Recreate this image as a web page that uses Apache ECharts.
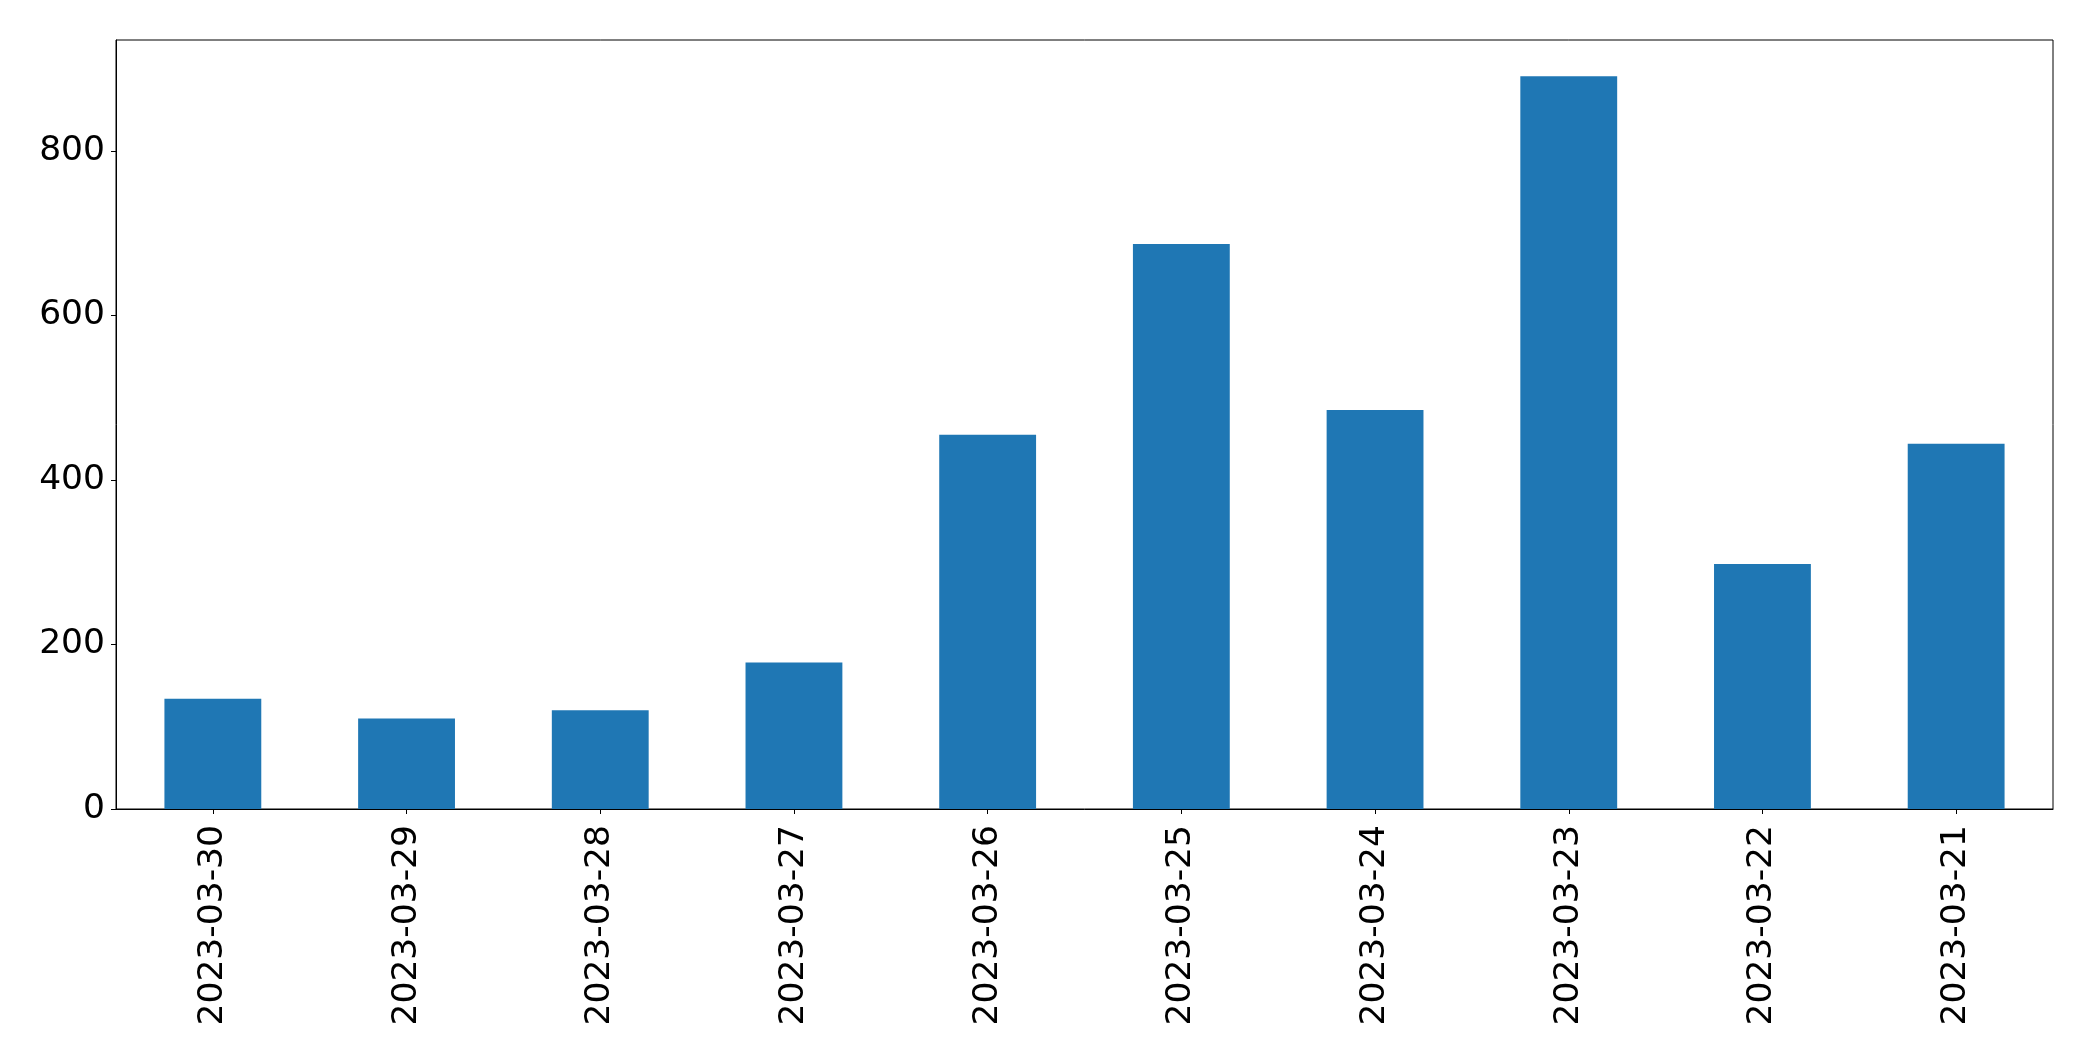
<!DOCTYPE html>
<html>
<head>
<meta charset="utf-8">
<script src="https://cdn.jsdelivr.net/npm/echarts@6/dist/echarts.min.js"></script>
<style>
  html, body { margin: 0; padding: 0; background: #fff; }
  #chart { width: 2093px; height: 1061px; }
</style>
</head>
<body>
<div id="chart"></div>
<script>
var dates = ['2023-03-30', '2023-03-29', '2023-03-28', '2023-03-27', '2023-03-26',
             '2023-03-25', '2023-03-24', '2023-03-23', '2023-03-22', '2023-03-21'];
var counts = [134, 110, 120, 178, 455, 687, 485, 891, 298, 444];
var yTicks = [0, 200, 400, 600, 800];

var chart = echarts.init(document.getElementById('chart'));
var font = 'DejaVu Sans';

var option = {
    backgroundColor: '#fff',
    animation: false,
    grid: {
        left: 116,
        right: 40,
        top: 40,
        bottom: 252,
        show: true,
        borderColor: '#000',
        borderWidth: 1,
        containLabel: false
    },
    xAxis: {
        type: 'category',
        data: dates,
        boundaryGap: true,
        axisLine: { show: true, lineStyle: { color: '#000', width: 1 } },
        axisTick: { show: true, alignWithLabel: true, length: 5, lineStyle: { color: '#000' } },
        axisLabel: {
            rotate: 90,
            margin: 16,
            color: '#000',
            fontSize: 34.5,
            fontFamily: font,
            interval: 0
        },
        splitLine: { show: false }
    },
    yAxis: {
        type: 'value',
        min: 0,
        max: 935,
        interval: 200,
        axisLine: { show: true, lineStyle: { color: '#000', width: 1 } },
        axisTick: { show: true, length: 5, lineStyle: { color: '#000' }, customValues: yTicks },
        axisLabel: {
            margin: 11,
            color: '#000',
            fontSize: 34.5,
            fontFamily: font,
            padding: [8, 0, 0, 0],
            customValues: yTicks
        },
        splitLine: { show: false }
    },
    series: [{
        type: 'bar',
        data: counts,
        barWidth: '50%',
        itemStyle: { color: '#1f77b4' }
    }]
};

chart.setOption(option);
</script>
</body>
</html>
